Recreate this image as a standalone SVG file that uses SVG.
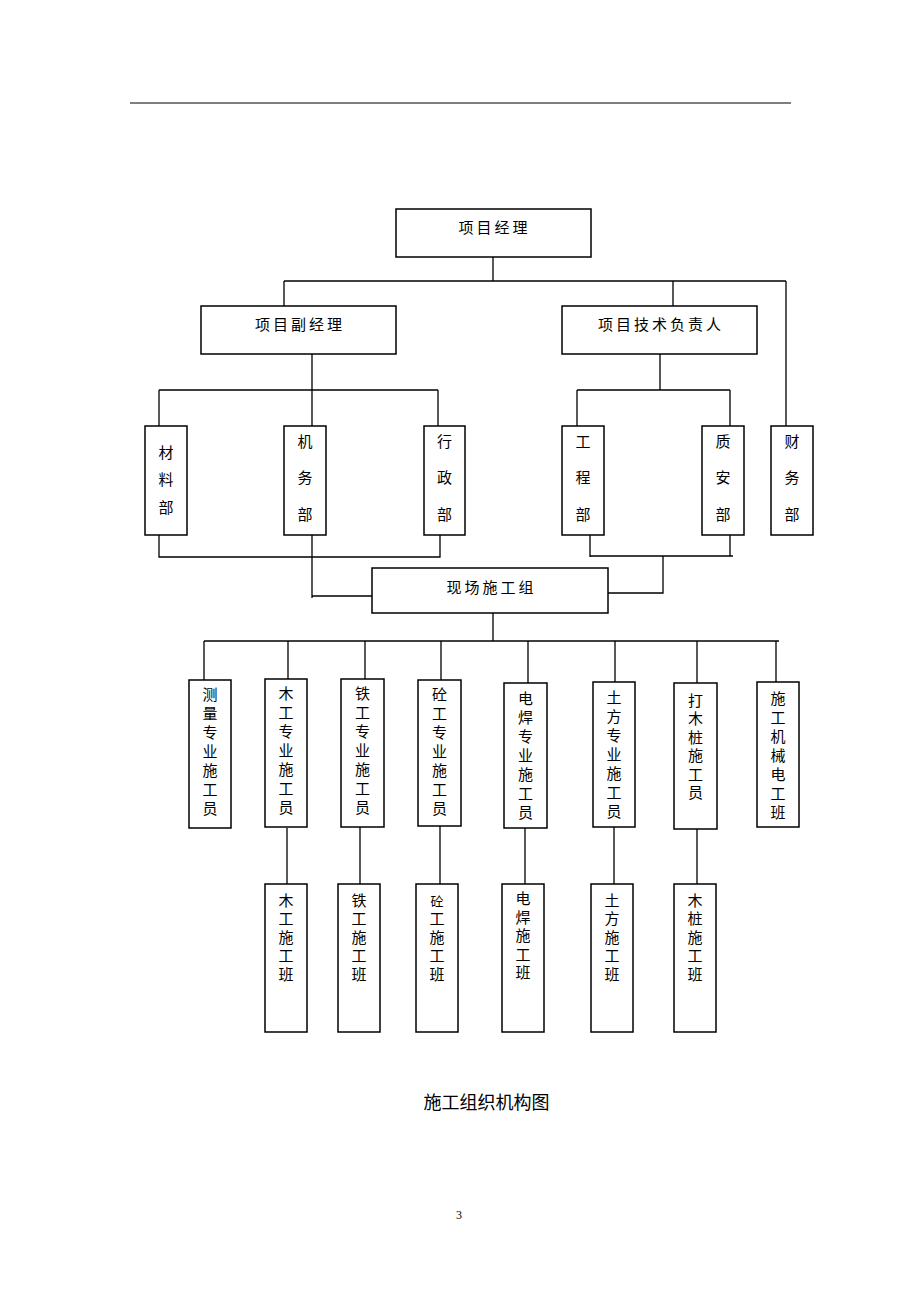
<svg xmlns="http://www.w3.org/2000/svg" width="920" height="1302" viewBox="0 0 920 1302">
<style>
.box{fill:#fff;stroke:#000;stroke-width:1.5}
.ln{fill:none;stroke:#000;stroke-width:1.3}
.t{font-family:"Noto Sans CJK SC","Noto Sans CJK JP",sans-serif;font-size:15px;fill:#000;text-anchor:middle}
.h{letter-spacing:3px}
</style>
<rect width="920" height="1302" fill="#fff"/>
<line x1="130" y1="103" x2="791" y2="103" stroke="#000" stroke-width="1"/>
<g id="connectors" class="ln">
<path d="M493 257V281M284 281H786M284 281V306M673 281V306M786 281V426"/>
<path d="M312 354V390M159 390H438M159 390V426M312 390V426M438 390V426"/>
<path d="M660 354V390M577 390H730M577 390V426M730 390V426"/>
<path d="M159 535V557H440V535M312 535V598M312 596H372"/>
<path d="M590 535V557M590 556H733M730 535V556M663 556V593H608"/>
<path d="M493 613V641M204 641H779M204 641V680M288 641V679M365 641V679M441 641V680M528 641V683M615 641V682M697 641V683M776 641V682"/>
<path d="M287 828V884M360 827V884M440 826V884M525 828V884M614 827V884M697 829V884"/>
</g>
<g id="n_pm"><rect class="box" x="396" y="209" width="195" height="48"/><text class="t h" x="494.5" y="233">项目经理</text></g>
<g id="n_dpm"><rect class="box" x="201" y="306" width="195" height="48"/><text class="t h" x="300" y="330">项目副经理</text></g>
<g id="n_tech"><rect class="box" x="562" y="306" width="195" height="48"/><text class="t h" x="661" y="330">项目技术负责人</text></g>
<g id="n_cl"><rect class="box" x="145" y="426" width="42" height="109"/><text class="t"><tspan x="166" y="457.5">材</tspan><tspan x="166" y="485">料</tspan><tspan x="166" y="512.5">部</tspan></text></g>
<g id="n_jw"><rect class="box" x="284" y="426" width="42" height="109"/><text class="t"><tspan x="305" y="446.5">机</tspan><tspan x="305" y="483">务</tspan><tspan x="305" y="519.5">部</tspan></text></g>
<g id="n_xz"><rect class="box" x="424" y="426" width="41" height="109"/><text class="t"><tspan x="444.5" y="446.5">行</tspan><tspan x="444.5" y="483">政</tspan><tspan x="444.5" y="519.5">部</tspan></text></g>
<g id="n_gc"><rect class="box" x="562" y="426" width="42" height="109"/><text class="t"><tspan x="583" y="446.5">工</tspan><tspan x="583" y="483">程</tspan><tspan x="583" y="519.5">部</tspan></text></g>
<g id="n_za"><rect class="box" x="702" y="426" width="42" height="109"/><text class="t"><tspan x="723" y="446.5">质</tspan><tspan x="723" y="483">安</tspan><tspan x="723" y="519.5">部</tspan></text></g>
<g id="n_cw"><rect class="box" x="771" y="426" width="42" height="109"/><text class="t"><tspan x="792" y="446.5">财</tspan><tspan x="792" y="483">务</tspan><tspan x="792" y="519.5">部</tspan></text></g>
<g id="n_xc"><rect class="box" x="372" y="568" width="236" height="45"/><text class="t h" x="491.5" y="592.5">现场施工组</text></g>
<g id="n_r1"><rect class="box" x="189" y="680" width="42" height="148"/><text class="t"><tspan x="210" y="699.5">测</tspan><tspan x="210" y="718.5">量</tspan><tspan x="210" y="737.5">专</tspan><tspan x="210" y="756.5">业</tspan><tspan x="210" y="775.5">施</tspan><tspan x="210" y="794.5">工</tspan><tspan x="210" y="813.5">员</tspan></text></g>
<g id="n_r2"><rect class="box" x="265" y="679" width="42" height="148"/><text class="t"><tspan x="286" y="698.5">木</tspan><tspan x="286" y="717.5">工</tspan><tspan x="286" y="736.5">专</tspan><tspan x="286" y="755.5">业</tspan><tspan x="286" y="774.5">施</tspan><tspan x="286" y="793.5">工</tspan><tspan x="286" y="812.5">员</tspan></text></g>
<g id="n_r3"><rect class="box" x="341" y="679" width="43" height="148"/><text class="t"><tspan x="362.5" y="698.5">铁</tspan><tspan x="362.5" y="717.5">工</tspan><tspan x="362.5" y="736.5">专</tspan><tspan x="362.5" y="755.5">业</tspan><tspan x="362.5" y="774.5">施</tspan><tspan x="362.5" y="793.5">工</tspan><tspan x="362.5" y="812.5">员</tspan></text></g>
<g id="n_r4"><rect class="box" x="418" y="680" width="43" height="146"/><text class="t"><tspan x="439.5" y="699.5">砼</tspan><tspan x="439.5" y="718.5">工</tspan><tspan x="439.5" y="737.5">专</tspan><tspan x="439.5" y="756.5">业</tspan><tspan x="439.5" y="775.5">施</tspan><tspan x="439.5" y="794.5">工</tspan><tspan x="439.5" y="813.5">员</tspan></text></g>
<g id="n_r5"><rect class="box" x="504" y="683" width="43" height="145"/><text class="t"><tspan x="525.5" y="703.5">电</tspan><tspan x="525.5" y="722.5">焊</tspan><tspan x="525.5" y="741.5">专</tspan><tspan x="525.5" y="760.5">业</tspan><tspan x="525.5" y="779.5">施</tspan><tspan x="525.5" y="798.5">工</tspan><tspan x="525.5" y="817.5">员</tspan></text></g>
<g id="n_r6"><rect class="box" x="593" y="682" width="42" height="145"/><text class="t"><tspan x="614" y="702.5">土</tspan><tspan x="614" y="721.5">方</tspan><tspan x="614" y="740.5">专</tspan><tspan x="614" y="759.5">业</tspan><tspan x="614" y="778.5">施</tspan><tspan x="614" y="797.5">工</tspan><tspan x="614" y="816.5">员</tspan></text></g>
<g id="n_r7"><rect class="box" x="674" y="683" width="43" height="146"/><text class="t"><tspan x="695.5" y="705.5">打</tspan><tspan x="695.5" y="724">木</tspan><tspan x="695.5" y="742.5">桩</tspan><tspan x="695.5" y="761">施</tspan><tspan x="695.5" y="779.5">工</tspan><tspan x="695.5" y="798">员</tspan></text></g>
<g id="n_r8"><rect class="box" x="757" y="682" width="42" height="145"/><text class="t"><tspan x="778" y="703.5">施</tspan><tspan x="778" y="722.5">工</tspan><tspan x="778" y="741.5">机</tspan><tspan x="778" y="760.5">械</tspan><tspan x="778" y="779.5">电</tspan><tspan x="778" y="798.5">工</tspan><tspan x="778" y="817.5">班</tspan></text></g>
<g id="n_b1"><rect class="box" x="265" y="884" width="42" height="148"/><text class="t"><tspan x="286" y="905.5">木</tspan><tspan x="286" y="924">工</tspan><tspan x="286" y="942.5">施</tspan><tspan x="286" y="961">工</tspan><tspan x="286" y="979.5">班</tspan></text></g>
<g id="n_b2"><rect class="box" x="338" y="884" width="42" height="148"/><text class="t"><tspan x="359" y="905.5">铁</tspan><tspan x="359" y="924">工</tspan><tspan x="359" y="942.5">施</tspan><tspan x="359" y="961">工</tspan><tspan x="359" y="979.5">班</tspan></text></g>
<g id="n_b3"><rect class="box" x="416" y="884" width="42" height="148"/><text class="t"><tspan x="437" y="905.5" font-size="13">砼</tspan><tspan x="437" y="924">工</tspan><tspan x="437" y="942.5">施</tspan><tspan x="437" y="961">工</tspan><tspan x="437" y="979.5">班</tspan></text></g>
<g id="n_b4"><rect class="box" x="502" y="884" width="42" height="148"/><text class="t"><tspan x="523" y="904">电</tspan><tspan x="523" y="922.5">焊</tspan><tspan x="523" y="941">施</tspan><tspan x="523" y="959.5">工</tspan><tspan x="523" y="978">班</tspan></text></g>
<g id="n_b5"><rect class="box" x="591" y="884" width="42" height="148"/><text class="t"><tspan x="612" y="905.5">土</tspan><tspan x="612" y="924">方</tspan><tspan x="612" y="942.5">施</tspan><tspan x="612" y="961">工</tspan><tspan x="612" y="979.5">班</tspan></text></g>
<g id="n_b6"><rect class="box" x="674" y="884" width="42" height="148"/><text class="t"><tspan x="695" y="905.5">木</tspan><tspan x="695" y="924">桩</tspan><tspan x="695" y="942.5">施</tspan><tspan x="695" y="961">工</tspan><tspan x="695" y="979.5">班</tspan></text></g>
<text x="486.5" y="1109" font-family="'Noto Sans CJK SC',sans-serif" font-size="18" text-anchor="middle" fill="#000">施工组织机构图</text>
<text x="459" y="1219" font-family="'Liberation Serif',serif" font-size="12" text-anchor="middle" fill="#000">3</text>
</svg>
